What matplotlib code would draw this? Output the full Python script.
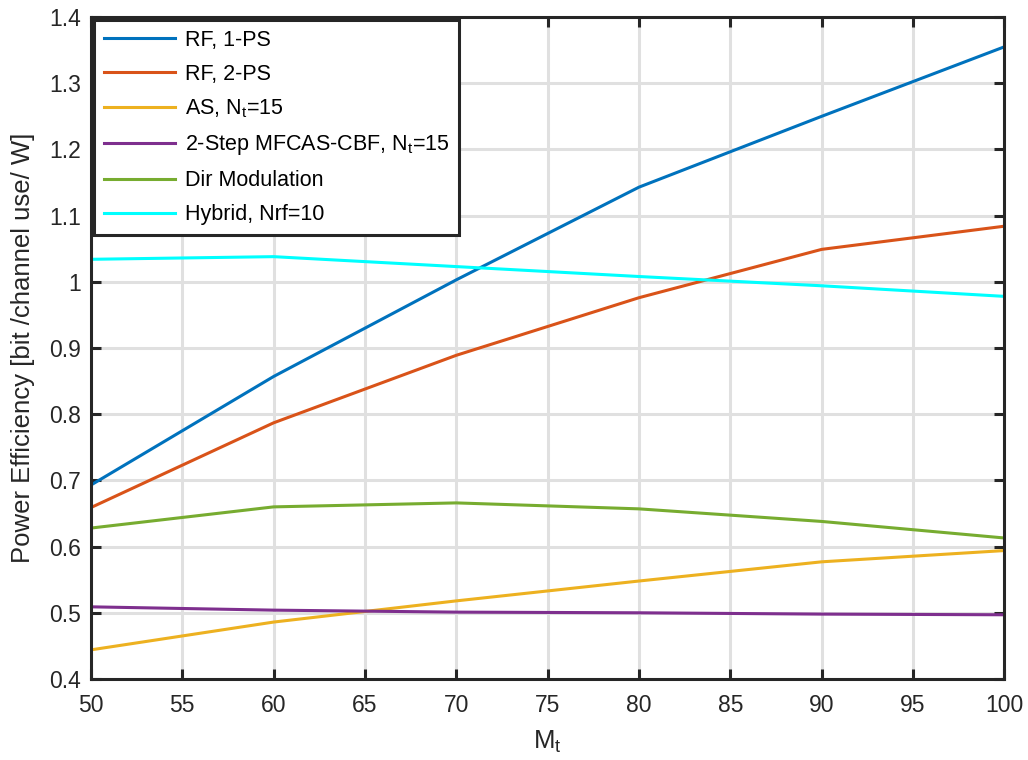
import numpy as np
import matplotlib
matplotlib.use("Agg")
import matplotlib.pyplot as plt

# number of transmit antennas
Mt = [50, 60, 70, 80, 90, 100]

# power efficiency per scheme
rf_1ps = [0.693, 0.857, 1.003, 1.143, 1.250, 1.355]
rf_2ps = [0.659, 0.787, 0.889, 0.976, 1.049, 1.084]
as_nt15 = [0.444, 0.486, 0.518, 0.548, 0.577, 0.594]
mfcas_cbf = [0.509, 0.504, 0.501, 0.500, 0.498, 0.497]
dir_mod = [0.628, 0.660, 0.666, 0.657, 0.638, 0.613]
hybrid = [1.034, 1.038, 1.023, 1.008, 0.994, 0.978]

labels = ['RF, 1-PS', 'RF, 2-PS', 'AS, N$_t$=15',
          '2-Step MFCAS-CBF, N$_t$=15', 'Dir Modulation', 'Hybrid, Nrf=10']
colors = ['#0072BD', '#D95319', '#EDB120', '#7E2F8E', '#77AC30', '#00FFFF']

plt.rcParams['font.family'] = 'Liberation Sans'
plt.rcParams['mathtext.default'] = 'regular'

fig = plt.figure(figsize=(10.28, 7.6), dpi=100)
ax = fig.add_axes([0.0885, 0.1066, 0.8885, 0.871])

series = [rf_1ps, rf_2ps, as_nt15, mfcas_cbf, dir_mod, hybrid]
for ys, lab, c in zip(series, labels, colors):
    ax.plot(Mt, ys, color=c, lw=2.2, label=lab)

ax.set_xlim(50, 100)
ax.set_ylim(0.4, 1.4)
ax.set_xticks(np.arange(50, 101, 5))
ax.set_yticks(np.arange(0.4, 1.41, 0.1))
ax.set_yticklabels(['0.4', '0.5', '0.6', '0.7', '0.8', '0.9', '1',
                    '1.1', '1.2', '1.3', '1.4'])
ax.grid(True, color='#e0e0e0', lw=2.2)
ax.set_axisbelow(True)

for s in ax.spines.values():
    s.set_color('#262626')
    s.set_linewidth(2.2)
ax.tick_params(direction='in', length=7, width=2.2, color='#262626',
               top=True, right=True, labelsize=16.5, labelcolor='#262626')
ax.tick_params(axis='x', pad=11)
ax.tick_params(axis='y', pad=7)

ax.set_xlabel('M$_t$', fontsize=18.5, color='#262626', labelpad=8)
ax.set_ylabel('Power Efficiency [bit /channel use/ W]', fontsize=18.5,
              color='#262626', labelpad=10)

leg = ax.legend(loc='upper left', fontsize=15.5, frameon=True, fancybox=False,
                edgecolor='#262626', borderaxespad=0.15, handlelength=3.3,
                handletextpad=0.45, labelspacing=0.6, borderpad=0.45)
leg.get_frame().set_linewidth(2.2)
leg.get_frame().set_alpha(1)

fig.savefig('out.png', dpi=100)
